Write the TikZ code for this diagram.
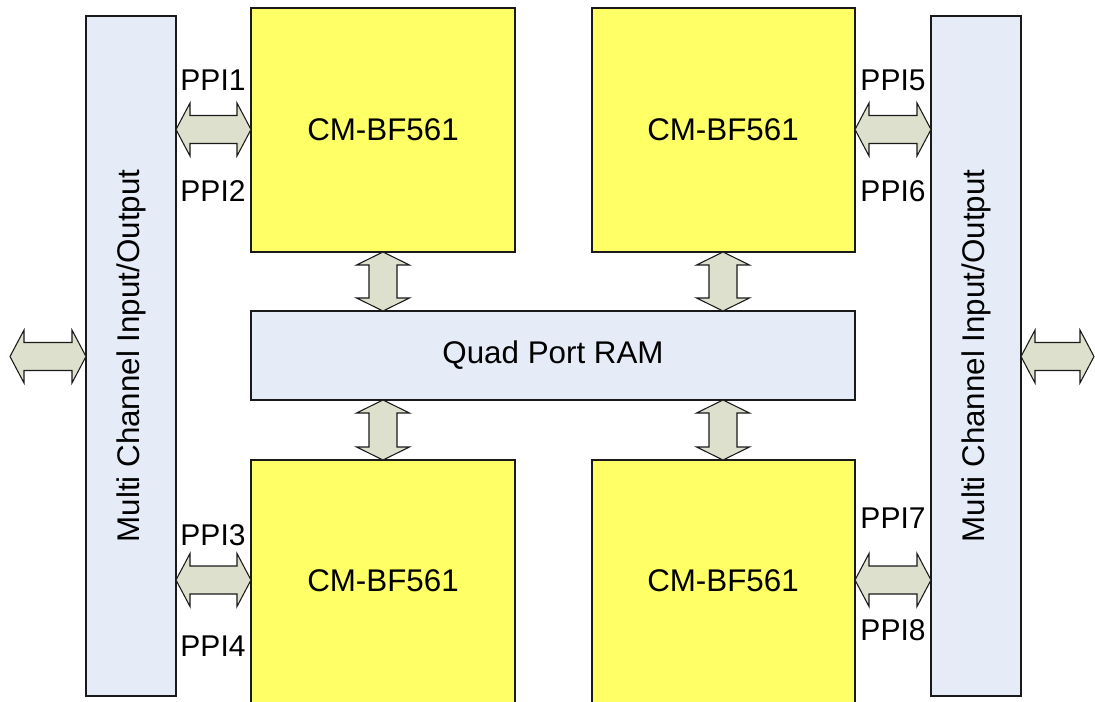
\documentclass[tikz,border=0pt]{standalone}
\usepackage{fontspec}
\setmainfont{Liberation Sans}
\definecolor{chipY}{HTML}{FFFF66}
\definecolor{panelB}{HTML}{E6ECF7}
\definecolor{arrF}{HTML}{DDE0CC}
\definecolor{edgeC}{HTML}{1A1A1A}
\tikzset{
  chip/.style={fill=chipY,draw=edgeC,line width=1pt},
  panel/.style={fill=panelB,draw=edgeC,line width=1pt},
  blockarr/.style={fill=arrF,draw=edgeC,line width=0.8pt,line join=miter},
  lbl/.style={font=\fontsize{22.5}{26}\selectfont,inner sep=0pt},
  big/.style={font=\fontsize{23.5}{28}\selectfont,inner sep=0pt}
}
% horizontal double block arrow: from x1 to x2 at y
\newcommand\harrowblk[3]{%
  \draw[blockarr] (#1,#3) -- ++(14,-26.5) -- ++(0,12.5) -- (#2-14,#3-14) -- ++(0,-12.5)
    -- (#2,#3) -- (#2-14,#3+26.5) -- ++(0,-12.5) -- (#1+14,#3+14) -- ++(0,12.5) -- cycle;}
% vertical double block arrow: at x from y1 to y2
\newcommand\varrowblk[3]{%
  \draw[blockarr] (#1,#2) -- ++(26.5,13) -- ++(-12.5,0) -- (#1+14,#3-13) -- ++(12.5,0)
    -- (#1,#3) -- (#1-26.5,#3-13) -- ++(12.5,0) -- (#1-14,#2+13) -- ++(-12.5,0) -- cycle;}
\begin{document}
\begin{tikzpicture}[x=0.75pt,y=-0.75pt]
\useasboundingbox (0,0) rectangle (1095,702);
% panels
\draw[panel] (86,16) rectangle (176,696);
\draw[panel] (931,16) rectangle (1021,696);
\node[big,rotate=90] (lp) at (131,356) {Multi Channel Input/Output};
\node[big,rotate=90] (rp) at (976,356) {Multi Channel Input/Output};
% chips
\draw[chip] (251,8) rectangle (515,252);
\draw[chip] (592,8) rectangle (855,252);
\fill[chipY] (251,460) rectangle (515,703);
\draw[edgeC,line width=1pt] (251,703) -- (251,460) -- (515,460) -- (515,703);
\fill[chipY] (592,460) rectangle (855,703);
\draw[edgeC,line width=1pt] (592,703) -- (592,460) -- (855,460) -- (855,703);
\node[big] (c1) at (383,130) {CM-BF561};
\node[big] (c2) at (723,130) {CM-BF561};
\node[big] (c3) at (383,581) {CM-BF561};
\node[big] (c4) at (723,581) {CM-BF561};
% RAM
\draw[panel] (251,311) rectangle (855,400);
\node[big] (ram) at (553,355) {Quad Port RAM};
% arrows
\harrowblk{176}{251}{129.5}
\harrowblk{176}{251}{580}
\harrowblk{855}{931}{129.5}
\harrowblk{855}{931}{580}
\harrowblk{10}{86}{356.5}
\harrowblk{1021}{1094}{356.5}
\varrowblk{383}{252}{311}
\varrowblk{723}{252}{311}
\varrowblk{383}{400}{460}
\varrowblk{723}{400}{460}
% labels
\node[lbl] (p1) at (213,80) {PPI1};
\node[lbl] (p2) at (213,191) {PPI2};
\node[lbl] (p3) at (213,535) {PPI3};
\node[lbl] (p4) at (213,646) {PPI4};
\node[lbl] (p5) at (893,80) {PPI5};
\node[lbl] (p6) at (893,191) {PPI6};
\node[lbl] (p7) at (893,518) {PPI7};
\node[lbl] (p8) at (893,630) {PPI8};
\end{tikzpicture}
\end{document}
